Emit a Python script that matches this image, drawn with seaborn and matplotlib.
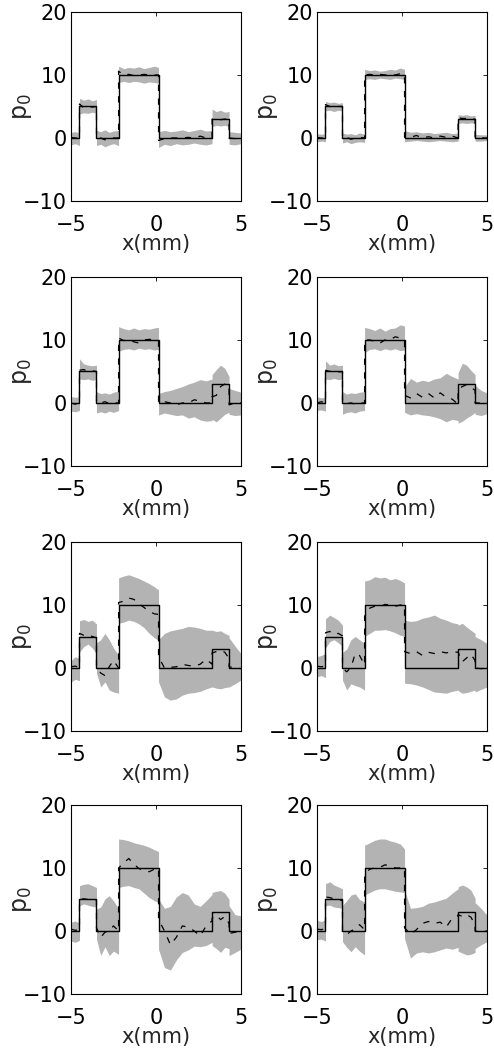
import matplotlib
matplotlib.use("Agg")
import matplotlib.pyplot as plt
import seaborn as sns

# sample positions (mm); repeated x marks the sharp step edges
x_grid = [-5.0, -4.75, -4.5,
          -4.5, -4.25, -4.0, -3.75, -3.5,
          -3.5, -3.25, -3.0, -2.75, -2.5, -2.2,
          -2.2, -1.9, -1.6, -1.3, -1.0, -0.7, -0.4, -0.1, 0.15,
          0.15, 0.5, 0.85, 1.2, 1.55, 1.9, 2.25, 2.6, 2.95, 3.3,
          3.3, 3.55, 3.8, 4.05, 4.3,
          4.3, 4.65, 5.0]

# true profile
true_x = [-5.0, -4.5, -3.5, -2.2, 0.15, 3.3, 4.3, 5.0]
true_p = [0, 5, 0, 10, 0, 3, 0, 0]

# panel 1 (row 1, left)
lo1 = [-1.1, -0.9, -1.2, 3.8, 4.0, 3.9, 4.1, 3.9, -1.2, -1.0, -1.4, -1.1, -0.9, -1.2,
       8.8, 9.0, 8.8, 9.0, 8.9, 8.7, 8.9, 8.8, 8.7,
       -1.5, -1.0, -1.2, -0.9, -1.1, -1.0, -0.8, -1.0, -1.1, -0.9,
       1.8, 2.0, 1.9, 2.0, 1.8, -1.0, -1.1, -0.9]
hi1 = [0.9, 1.0, 0.8, 6.3, 6.0, 6.2, 5.9, 6.1, 1.2, 1.0, 1.3, 0.9, 1.1, 1.2,
       11.4, 11.0, 11.2, 11.1, 11.3, 11.0, 11.2, 11.4, 11.2,
       1.0, 1.2, 1.0, 1.1, 1.3, 1.0, 1.2, 1.4, 1.1, 1.2,
       4.6, 4.2, 4.4, 4.1, 4.2, 1.0, 0.9, 0.8]
mean1 = [0.1, 0.0, 0.0, 5.4, 4.8, 5.0, 4.9, 5.0, 0.0, 0.0, -0.3, 0.0, 0.0, 0.0,
         10.6, 10.0, 10.1, 9.9, 10.0, 10.1, 10.0, 10.0, 10.0,
         -0.4, -0.1, 0.0, 0.0, 0.0, 0.1, 0.0, 0.3, 0.0, 0.0,
         3.0, 3.1, 2.9, 3.0, 3.0, 0.0, -0.1, 0.0]

# panel 2 (row 1, right)
lo2 = [-0.6, -0.5, -0.6, 4.3, 4.4, 4.2, 4.4, 4.3, -0.8, -0.6, -0.9, -0.7, -0.6, -0.7,
       9.3, 9.4, 9.3, 9.5, 9.4, 9.3, 9.5, 9.4, 9.3,
       -0.6, -0.5, -0.4, -0.5, -0.6, -0.5, -0.4, -0.5, -0.6, -0.5,
       2.3, 2.4, 2.3, 2.4, 2.3, -0.5, -0.5, -0.4]
hi2 = [0.7, 0.6, 0.7, 5.8, 5.6, 5.7, 5.5, 5.6, 0.8, 0.6, 0.7, 0.5, 0.8, 0.6,
       10.9, 10.7, 10.8, 10.6, 10.7, 10.9, 10.8, 11.1, 10.9,
       1.2, 0.9, 1.0, 0.8, 0.9, 0.7, 0.8, 0.9, 0.7, 0.8,
       3.7, 3.6, 3.7, 3.5, 3.6, 0.6, 0.5, 0.5]
mean2 = [0.1, 0.0, 0.0, 5.3, 5.0, 4.9, 5.0, 5.0, 0.0, 0.1, -0.2, 0.0, 0.1, 0.0,
         10.0, 10.1, 10.0, 10.1, 10.0, 10.1, 10.0, 10.2, 10.1,
         0.1, 0.1, 0.4, 0.0, 0.2, 0.0, 0.3, 0.1, 0.3, 0.0,
         3.2, 3.1, 3.1, 3.0, 3.0, 0.0, 0.0, 0.0]

# panel 3 (row 2, left)
lo3 = [-1.3, -1.4, -1.2, 3.8, 3.7, 3.8, 3.6, 3.7, -1.6, -1.4, -1.6, -1.3, -1.5, -1.2,
       8.2, 8.5, 8.6, 8.4, 8.7, 8.5, 8.6, 8.4, 8.5,
       -1.9, -1.6, -1.8, -2.0, -1.9, -2.4, -2.2, -2.7, -2.9, -2.8,
       -2.6, -3.0, -2.4, -1.8, -1.5, -1.8, -2.0, -1.9]
hi3 = [1.0, 0.9, 1.0, 7.0, 6.2, 6.0, 5.9, 6.0, 1.8, 1.5, 1.6, 1.4, 1.7, 1.9,
       12.1, 11.8, 11.6, 11.9, 11.6, 11.8, 11.7, 11.9, 12.0,
       1.5, 1.8, 2.0, 2.3, 2.6, 3.0, 3.3, 3.7, 3.5, 3.8,
       4.5, 5.3, 6.0, 5.5, 4.2, 2.3, 2.0, 1.7]
mean3 = [0.0, -0.2, 0.1, 5.2, 5.3, 5.0, 5.1, 5.0, 0.0, 0.0, 0.2, -0.1, 0.0, 0.0,
         10.3, 9.9, 10.0, 9.7, 9.5, 10.0, 10.1, 10.0, 9.9,
         0.0, 0.2, 0.0, -0.3, 0.0, 0.0, 0.5, 0.3, 0.0, 0.0,
         1.0, 1.2, 2.6, 3.0, 2.8, -0.3, 0.0, 0.0]

# panel 4 (row 2, right)
lo4 = [-1.2, -1.1, -1.3, 3.8, 3.7, 3.9, 3.7, 3.8, -1.8, -1.5, -1.4, -1.6, -1.3, -1.2,
       8.0, 8.5, 8.6, 8.3, 8.6, 8.4, 8.6, 8.3, 8.4,
       -1.5, -1.9, -1.7, -1.9, -2.0, -2.2, -2.5, -3.0, -2.6, -2.8,
       -3.2, -2.9, -2.4, -2.0, -1.5, -1.8, -2.0, -1.7]
hi4 = [1.0, 0.8, 0.9, 6.7, 6.0, 6.2, 5.9, 6.0, 1.8, 1.4, 1.6, 1.5, 1.7, 1.8,
       12.0, 11.8, 11.5, 11.9, 11.4, 11.8, 11.9, 12.4, 12.2,
       2.5, 3.9, 3.3, 3.6, 3.4, 3.8, 4.0, 4.7, 4.2, 3.8,
       4.8, 6.3, 6.0, 5.2, 4.5, 2.8, 2.0, 1.6]
mean4 = [0.0, 0.2, 0.0, 5.2, 5.0, 5.1, 4.9, 5.0, 0.0, -0.1, 0.0, -0.2, 0.0, 0.0,
         10.0, 10.0, 9.8, 9.5, 10.0, 10.0, 10.5, 10.3, 10.0,
         1.2, 0.8, 1.5, 0.9, 1.5, 0.8, 1.6, 0.9, 0.6, -0.2,
         2.2, 2.6, 2.9, 2.5, 2.0, 0.0, 0.0, 0.0]

# panel 5 (row 3, left)
lo5 = [-2.2, -1.8, -2.0, 2.5, 3.4, 3.8, 3.2, 2.2, -0.8, -3.0, -2.2, -3.5, -3.8, -4.0,
       7.1, 7.3, 7.6, 7.4, 7.0, 6.4, 5.5, 4.8, 4.4,
       -2.2, -4.6, -5.1, -4.9, -4.3, -4.0, -3.9, -3.7, -3.3, -3.0,
       -3.0, -3.2, -3.3, -3.1, -3.0, -3.0, -2.5, -1.9]
hi5 = [1.2, 1.8, 1.5, 7.5, 7.7, 7.4, 7.6, 7.0, 4.0, 4.5, 5.5, 4.5, 3.2, 2.0,
       14.3, 14.6, 14.8, 14.5, 14.2, 13.8, 13.4, 12.9, 12.4,
       4.5, 5.5, 5.9, 6.1, 6.3, 6.6, 6.5, 6.3, 6.0, 6.0,
       6.0, 5.8, 5.9, 5.5, 5.2, 4.8, 3.5, 2.3]
mean5 = [0.2, 0.3, 0.1, 5.5, 5.2, 5.3, 5.0, 4.8, 0.0, -0.8, -1.2, 0.2, 1.2, 0.0,
         10.4, 10.6, 11.1, 10.9, 10.2, 9.6, 9.0, 8.6, 8.5,
         1.8, 0.0, 0.1, 0.2, 0.6, 0.4, 0.3, 0.6, 1.4, 0.6,
         2.4, 2.6, 2.8, 2.5, 1.5, 0.2, 0.0, -0.1]

# panel 6 (row 3, right)
lo6 = [-1.4, -1.2, -1.5, 3.2, 4.2, 4.5, 4.0, 3.5, -1.9, -3.5, -2.5, -2.8, -3.0, -3.5,
       5.0, 5.5, 6.0, 6.0, 6.1, 5.9, 5.6, 5.2, 5.0,
       -2.4, -2.5, -2.7, -3.0, -3.4, -3.8, -3.9, -4.0, -3.7, -3.5,
       -3.6, -4.0, -3.9, -3.7, -3.5, -3.8, -3.4, -3.0]
hi6 = [1.8, 2.0, 2.3, 7.8, 8.4, 8.0, 7.6, 6.8, 2.5, 3.0, 4.5, 5.0, 4.5, 3.9,
       13.8, 14.0, 14.5, 14.3, 14.4, 14.0, 14.2, 13.9, 13.5,
       7.6, 7.4, 7.5, 7.9, 8.1, 8.4, 7.9, 7.6, 7.2, 7.0,
       6.8, 7.1, 6.5, 6.0, 5.5, 5.0, 4.5, 3.9]
mean6 = [0.3, 0.2, 0.3, 5.6, 5.8, 5.3, 5.5, 5.1, 0.0, -0.6, 0.1, 2.3, 2.0, 0.5,
         8.2, 9.5, 9.8, 9.7, 10.1, 10.0, 9.8, 10.0, 10.0,
         2.6, 2.3, 2.6, 2.0, 2.5, 2.3, 2.6, 2.4, 2.6, 2.5,
         2.5, 1.0, 1.6, 2.2, 1.2, 0.0, -0.1, 0.0]

# panel 7 (row 4, left)
lo7 = [-1.6, -1.8, -1.5, 4.0, 4.3, 4.1, 3.9, 3.8, -1.3, -3.9, -2.5, -3.9, -3.2, -3.7,
       6.9, 7.1, 7.2, 6.9, 6.7, 6.0, 5.3, 4.8, 4.5,
       -2.9, -5.8, -6.2, -4.6, -3.4, -3.0, -2.4, -2.5, -2.3, -1.8,
       -2.3, -2.8, -3.4, -2.6, -2.8, -3.9, -3.4, -2.9]
hi7 = [1.4, 1.6, 1.2, 7.2, 7.4, 7.5, 7.2, 6.9, 3.5, 3.8, 5.1, 5.6, 4.8, 3.5,
       14.6, 14.5, 14.3, 14.0, 13.8, 13.6, 13.3, 12.9, 12.6,
       5.1, 3.6, 3.9, 5.4, 6.1, 5.7, 4.3, 3.9, 4.8, 5.8,
       6.1, 6.3, 6.4, 6.0, 5.0, 4.0, 2.6, 2.4]
mean7 = [0.3, 0.1, 0.2, 5.0, 5.1, 5.0, 5.0, 4.9, 0.5, -1.0, -0.2, 0.0, 0.8, 0.0,
         10.0, 10.8, 11.5, 10.6, 9.9, 9.6, 9.4, 9.8, 10.0,
         1.8, 0.0, -2.2, -1.0, 0.8, 0.6, 0.0, -0.8, 0.8, 1.6,
         2.0, 2.5, 1.8, 2.3, 1.2, -0.4, -0.2, 0.0]

# panel 8 (row 4, right)
lo8 = [-1.4, -1.3, -1.6, 4.0, 4.1, 3.8, 3.7, 3.6, -1.7, -2.6, -3.3, -2.5, -3.2, -3.8,
       5.7, 6.1, 6.5, 6.7, 6.7, 6.5, 6.3, 6.2, 6.1,
       -1.2, -4.3, -3.5, -3.3, -3.5, -3.3, -3.0, -2.7, -2.9, -2.6,
       -3.2, -3.5, -3.8, -3.7, -3.4, -2.8, -2.2, -1.7]
hi8 = [1.7, 1.5, 1.8, 7.5, 7.8, 7.3, 7.0, 6.7, 4.1, 4.8, 5.7, 5.9, 5.0, 4.6,
       13.6, 14.0, 14.4, 14.6, 14.6, 14.3, 14.1, 13.8, 13.0,
       6.5, 3.6, 3.7, 3.9, 4.4, 4.6, 4.9, 5.2, 6.0, 6.7,
       7.0, 7.3, 7.0, 6.5, 5.2, 4.5, 3.6, 2.5]
mean8 = [0.3, 0.2, 0.4, 5.4, 5.3, 5.1, 5.0, 4.8, -0.3, -0.6, 0.0, 0.3, 1.0, 0.2,
         9.0, 9.8, 10.0, 10.1, 10.5, 10.3, 10.0, 10.0, 10.0,
         0.5, -0.5, 0.2, 1.2, 1.5, 1.2, 1.4, 0.6, 2.0, 2.4,
         2.6, 2.3, 2.6, 2.2, 1.0, 0.0, -0.2, 0.0]

x_ticks = [-5, 0, 5]
y_ticks = [-10, 0, 10, 20]

sns.set_style("white")
plt.rcParams["font.family"] = ["DejaVu Sans"]
plt.rcParams["mathtext.fontset"] = "dejavusans"
plt.rcParams["axes.unicode_minus"] = True

panels = [(lo1, hi1, mean1), (lo2, hi2, mean2),
          (lo3, hi3, mean3), (lo4, hi4, mean4),
          (lo5, hi5, mean5), (lo6, hi6, mean6),
          (lo7, hi7, mean7), (lo8, hi8, mean8)]

fig = plt.figure(figsize=(4.94, 10.59), dpi=100)
lefts = [0.1437, 0.6417]
bottoms = [0.8102, 0.5600, 0.3097, 0.0614]

for i, (lo, hi, mean) in enumerate(panels):
    ax = fig.add_axes([lefts[i % 2], bottoms[i // 2], 0.3441, 0.1785])
    ax.fill_between(x_grid, lo, hi, color="#b3b3b3", lw=0)
    sns.lineplot(x=x_grid, y=mean, estimator=None, sort=False, color="k",
                 lw=0.9, linestyle=(0, (5, 6)), ax=ax)
    sns.lineplot(x=true_x, y=true_p, estimator=None, sort=False, color="k",
                 lw=1.0, drawstyle="steps-post", ax=ax)
    ax.set_xlim(-5, 5)
    ax.set_ylim(-10, 20)
    ax.set_xticks(x_ticks)
    ax.set_yticks(y_ticks)
    ax.tick_params(direction="in", length=3, width=0.6, top=True, right=True,
                   labelsize=15, colors="k")
    ax.tick_params(axis="x", pad=10)
    ax.tick_params(axis="y", pad=3)
    for s in ax.spines.values():
        s.set_color("k")
        s.set_linewidth(0.8)
    ax.set_xlabel("x(mm)", fontsize=15)
    ax.set_ylabel(r"p$_\mathregular{0}$", fontsize=17)
    ax.xaxis.set_label_coords(0.5, -0.175)
    ax.yaxis.set_label_coords(-0.215, 0.5)

fig.savefig("out.png", dpi=100)
